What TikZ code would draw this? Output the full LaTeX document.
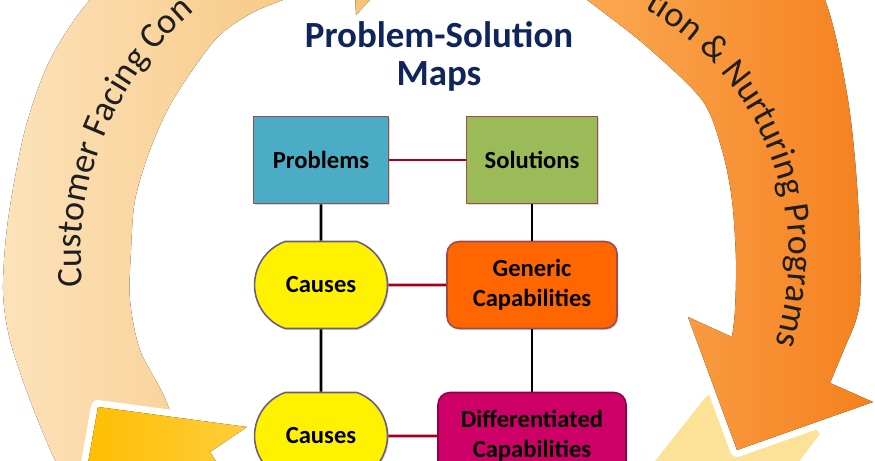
\documentclass[tikz,border=0pt]{standalone}
\usepackage{fontspec}
\setmainfont{Carlito}
\usetikzlibrary{shapes.misc,shadows,decorations.text}

\definecolor{peachL}{RGB}{252,226,186}
\definecolor{peachR}{RGB}{245,190,110}
\definecolor{orangeL}{RGB}{252,178,95}
\definecolor{orangeR}{RGB}{245,128,30}
\definecolor{brightL}{RGB}{255,190,0}
\definecolor{brightR}{RGB}{255,205,60}
\definecolor{lightY}{RGB}{251,226,150}
\definecolor{probfill}{RGB}{75,172,198}
\definecolor{solfill}{RGB}{155,187,89}
\definecolor{genfill}{RGB}{255,102,0}
\definecolor{difffill}{RGB}{204,0,102}
\definecolor{boxedge}{RGB}{160,75,75}
\definecolor{causeedge}{RGB}{110,92,126}
\definecolor{linkred}{RGB}{165,0,25}
\definecolor{titleblue}{RGB}{16,37,92}
\definecolor{arctext}{RGB}{30,30,30}

\newcommand\arcfont{\fontsize{20.5}{24}\selectfont}

\tikzset{
  box/.style={draw=boxedge, line width=0.9pt, minimum height=1.74cm, inner sep=2pt,
    font=\fontsize{14}{17}\selectfont\bfseries, text=black, align=center,
    drop shadow={shadow xshift=0.8pt, shadow yshift=-0.8pt, opacity=0.3}},
  probbox/.style={box, fill=probfill, minimum width=2.7cm},
  solbox/.style={box, fill=solfill, minimum width=2.62cm},
  causebox/.style={box, draw=causeedge, fill=yellow, rounded rectangle,
    rounded rectangle arc length=140, minimum width=2.8cm},
  genbox/.style={box, fill=genfill, rounded corners=0.24cm, minimum width=3.4cm},
  diffbox/.style={box, draw=difffill!70!black, fill=difffill, rounded corners=0.24cm, minimum width=3.76cm},
  redlink/.style={draw=linkred, line width=1.5pt},
  blacklink/.style={draw=black, line width=1.5pt},
  cutout/.style={preaction={draw=white, line width=0.28cm}},
  arclabel/.style={decorate, decoration={text along path, text color=arctext, text align=left, text={#1}}},
  title/.style={anchor=north, inner sep=0pt, align=center, text=titleblue,
    font=\fontsize{21}{22}\selectfont\bfseries}
}

\begin{document}
\begin{tikzpicture}[x=0.02cm, y=0.02cm, line join=round]
  \useasboundingbox (0,0) rectangle (875,460);
  \clip (0,0) rectangle (875,460);

  % left arrow
  \fill[left color=peachL, right color=peachR]
    plot[smooth] coordinates {(75,-30) (55,0) (30,60) (10,120) (3,170) (8,240)
      (25,330) (50,400) (90,460) (150,510) (240,550) (352,565)}
    -- (350,600) -- (426,520) -- (356,445) -- (355,465)
    -- plot[smooth] coordinates {(283,460) (250,446) (215,420) (173,360) (150,310)
      (135,260) (131,210) (130,160) (140,110) (167,57) (195,-30)}
    -- cycle;

  % bottom arrow, tail
  \fill[lightY] (705,62) -- (722,75) -- (760,95) -- (820,26) -- (800,0) -- (790,-20)
    -- (640,-20) -- cycle;

  % right arrow
  \fill[cutout, left color=orangeL, right color=orangeR]
    (520,530)
    -- plot[smooth] coordinates {(587,460) (645,415) (702,360) (722,310) (732,260)
      (736,200) (735,150) (732,123)}
    -- (688,143) -- (737,10) -- (873,58) -- (830,77)
    -- plot[smooth] coordinates {(848,120) (860,160) (858,260) (848,360) (825,460)
      (780,530)}
    -- cycle;

  % bottom arrow, head
  \fill[cutout, left color=brightL, right color=brightR]
    (98,53) -- (247,33) -- (210,8) -- (228,-20) -- (85,-20) -- cycle;

  % arc texts
  \path[arclabel={|\arcfont|Customer Facing Con}]
    (402,204) ++(185.5:321) arc[start angle=185.5, end angle=100, radius=321];
  \path[arclabel={|\arcfont|tion {\&} Nurturing Programs}]
    (505,204) ++(60.6:284) arc[start angle=60.6, end angle=-50, radius=284];

  \node[title] (title) at (439,439) {Problem-Solution\\Maps};

  \node[probbox] (prob) at (321,300) {Problems};
  \node[solbox] (sol) at (532,300) {Solutions};
  \node[causebox] (cause1) at (321,175) {Causes};
  \node[genbox] (gen) at (532,175) {Generic\\Capabilities};
  \node[causebox] (cause2) at (321,24) {Causes};
  \node[diffbox] (diff) at (532,24) {Differentiated\\Capabilities};

  \draw[redlink] (prob) -- (sol);
  \draw[redlink] (cause1) -- (gen);
  \draw[redlink] (cause2) -- (diff);
  \draw[blacklink] (prob) -- (cause1);
  \draw[blacklink] (cause1) -- (cause2);
  \draw[blacklink] (sol) -- (gen);
  \draw[blacklink] (gen) -- (diff);
\end{tikzpicture}
\end{document}
